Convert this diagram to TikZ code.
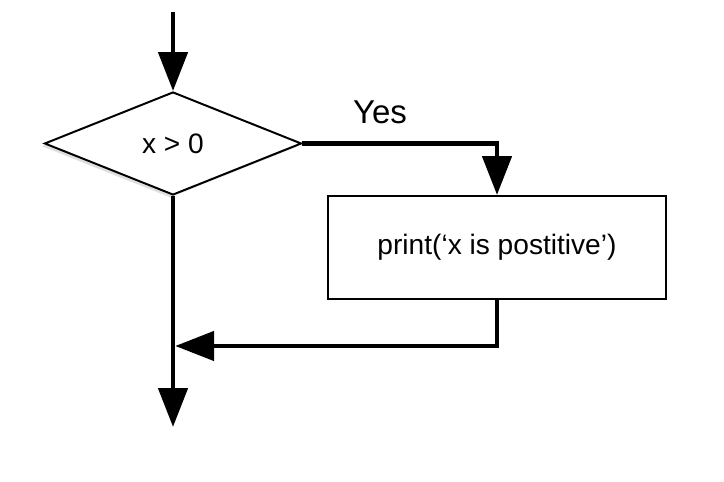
\documentclass[tikz,border=0pt]{standalone}
\usepackage{fontspec}
\setmainfont{Liberation Sans}
\usetikzlibrary{calc,positioning,arrows.meta,shapes.geometric,shadows}

\begin{document}
\begin{tikzpicture}[tok/.style={line width=3.5pt,-{Triangle[length=0.97cm,width=0.72cm]}},
  cond/.style={diamond,draw,line width=1.4pt,fill=white,aspect=2.5,inner sep=1pt,minimum width=6.425cm,minimum height=2.575cm,
    drop shadow={shadow xshift=-0.7mm,shadow yshift=-0.7mm,opacity=0.25}},
  akce/.style={rectangle,draw,line width=1.4pt,fill=white,minimum width=8.45cm,minimum height=2.575cm},
  font=\fontsize{20}{24}\selectfont]
  \useasboundingbox (0,0) rectangle (18.1,12.05);
  % vetveni a akce
  \node[cond] (test) at (4.325,8.4625) {x > 0};
  \node[akce] (tisk) at (12.425,5.8625) {print(‘x is postitive’)};
  % pomocne body
  \coordinate (start) at (4.325,11.75);
  \coordinate (spoj) at (4.38,3.4);
  \coordinate (konec) at (4.325,1.375);
  % sipky
  \draw[tok] (start) -- (test.north);
  \draw[tok] (test.east) -| (tisk.north);
  \node[font=\fontsize{23.5}{28}\selectfont] (ano) at (9.5,9.25) {Yes};
  \draw[tok] (tisk.south) |- (spoj);
  \draw[tok] (test.south) -- (konec);
\end{tikzpicture}
\end{document}
